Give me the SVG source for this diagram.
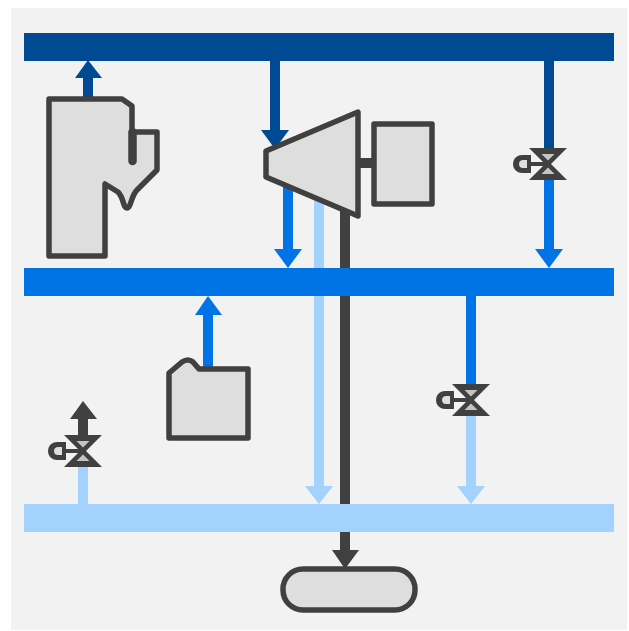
<svg xmlns="http://www.w3.org/2000/svg" width="629" height="631" viewBox="0 0 629 631">
<defs>
<style>
.eq{fill:#dedede;stroke:#404040;stroke-width:5.5;stroke-linejoin:round}
.dk{stroke:#004a94;fill:none;stroke-width:10}
.md{stroke:#0073e6;fill:none;stroke-width:10}
.lt{stroke:#a3d2ff;fill:none;stroke-width:10}
.gr{stroke:#404040;fill:none;stroke-width:10}
</style>
<g id="valve-shape">
<path d="M-35 0C-35 -6 -30 -9 -26 -9H-17V9H-26C-30 9 -35 6 -35 0Z" fill="#404040"/>
<path d="M-29 0C-29 -3 -27 -4 -25 -4H-21V4H-25C-27 4 -29 3 -29 0Z" fill="#dedede"/>
<path d="M-18 0H0" stroke="#404040" stroke-width="4"/>
<path d="M-19 -16H19L3 0L19 16H-19L-3 0Z" fill="#404040"/>
<path d="M-6.500 -10H6.500L0 -3.500Z" fill="#c4c4c4"/>
<path d="M0 3.500L6.500 10H-6.500Z" fill="#c4c4c4"/>
</g>
</defs>
<rect width="629" height="631" fill="#ffffff"/>
<rect x="11" y="8" width="616" height="622" fill="#f2f2f2"/>
<g id="connectors">
<path class="dk" d="M88 98V76"/><polygon points="75,78 88,60 102,78" fill="#004a94"/>
<path class="dk" d="M275 61V132"/><polygon points="261,130 289,130 275,149" fill="#004a94"/>
<path class="dk" d="M549 61V152"/>
<path class="md" d="M549 176V250"/><polygon points="535,249 563,249 549,268" fill="#0073e6"/>
<path class="md" d="M288 180V250"/><polygon points="274,249 302,249 288,268" fill="#0073e6"/>
<path class="lt" d="M319 195V488"/><polygon points="305,486 333,486 319,504" fill="#a3d2ff"/>
<path class="md" d="M471 296V386"/>
<path class="lt" d="M471 412V488"/><polygon points="457,486 485,486 471,504" fill="#a3d2ff"/>
<path class="md" d="M208 368V314"/><polygon points="195,315 208,296 222,315" fill="#0073e6"/>
<path class="lt" d="M83 504V460"/>
<path class="gr" d="M83 440V416"/><polygon points="70,419 83,401 97,419" fill="#404040"/>
<path class="gr" d="M345 210V532"/>
<path class="gr" d="M345 532V552"/><polygon points="332,550 359,550 345,569" fill="#404040"/>
<path class="gr" d="M358 163H375"/>
</g>
<g id="header-dark"><rect x="24" y="33" width="590" height="28" fill="#004a94"/></g>
<g id="header-medium"><rect x="24" y="268" width="590" height="28" fill="#0073e6"/></g>
<g id="header-light"><rect x="24" y="504" width="590" height="28" fill="#a3d2ff"/></g>
<g id="boiler">
<path class="eq" d="M49 99H122L132 106V132H157V170L137 190C131 196 131 208 127 208C123 208 124 198 118 192L105 184V256H49Z"/>
<path d="M132.500 132V161" stroke="#404040" stroke-width="8.500" stroke-linecap="round" fill="none"/>
</g>
<g id="turbine"><path class="eq" d="M266 151L358 112V216L266 177Z"/></g>
<g id="generator"><rect class="eq" x="374" y="124" width="58" height="80"/></g>
<g id="pump"><path class="eq" d="M169 373L182 362Q188 358 193 362L199 369H248V438H169Z"/></g>
<g id="tank"><rect class="eq" x="283" y="569" width="132" height="41" rx="20" ry="20"/></g>
<g id="valve-top"><use href="#valve-shape" x="548" y="164"/></g>
<g id="valve-mid"><use href="#valve-shape" x="471" y="400"/></g>
<g id="valve-low"><use href="#valve-shape" x="83" y="451"/></g>
</svg>
